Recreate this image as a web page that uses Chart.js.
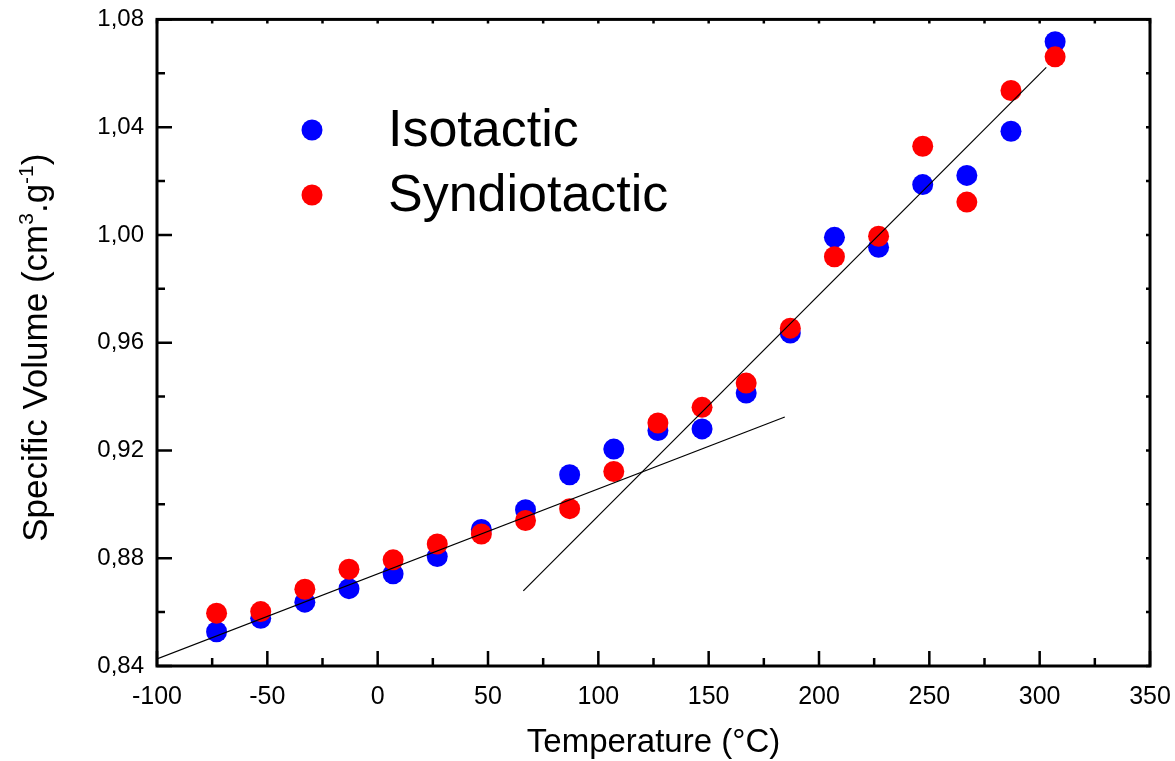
<!DOCTYPE html>
<html>
<head>
<meta charset="utf-8">
<script src="https://cdn.jsdelivr.net/npm/chart.js@4"></script>
<style>
    body { margin: 0; background: #fff; }
    #wrap { width: 1175px; height: 761px; }
</style>
</head>
<body>
<div id="wrap"><canvas id="volume-chart"></canvas></div>
<script>
// Measured temperatures (°C) and specific volumes (cm3/g)
const temperatures = [-73, -53, -33, -13, 7, 27, 47, 67, 87, 107, 127, 147, 167, 187, 207, 227, 247, 267, 287, 307];
const isotactic = [0.8527, 0.8577, 0.8637, 0.8687, 0.8742, 0.8806, 0.8907, 0.8980, 0.9110, 0.9205,
    0.9274, 0.9280, 0.9413, 0.9636, 0.9991, 0.9954, 1.0187, 1.0221, 1.0385, 1.0717];
const syndiotactic = [0.8596, 0.8602, 0.8685, 0.8759, 0.8794, 0.8853, 0.8890, 0.8940, 0.8984, 0.9122,
    0.9302, 0.9360, 0.9450, 0.9654, 0.9919, 0.9995, 1.0329, 1.0122, 1.0536, 1.0661];

// Straight-line fits below and above the transition (end points)
const glassyFitX = [-100, 184.5];
const glassyFitY = [0.8426, 0.9324];
const meltFitX = [66, 303];
const meltFitY = [0.8679, 1.0622];

const FONT = 'Arial, "Liberation Sans", Helvetica, sans-serif';

const toPoints = (xs, ys) => xs.map((x, i) => ({ x, y: ys[i] }));

// Closed frame with inward ticks on all four sides
const framePlugin = {
    id: 'frame',
    afterDraw(chart) {
        const { ctx, chartArea: a, scales } = chart;
        const xs = scales.x, ys = scales.y;
        ctx.save();
        ctx.strokeStyle = '#000';
        ctx.lineWidth = 2.5;
        ctx.lineCap = 'butt';
        ctx.beginPath();
        for (let t = -100; t <= 350; t += 25) {
            const px = xs.getPixelForValue(t);
            const major = t % 50 === 0;
            ctx.moveTo(px, a.bottom);
            ctx.lineTo(px, a.bottom - (major ? 15 : 8));
            ctx.moveTo(px, a.top);
            ctx.lineTo(px, a.top + 4);
        }
        for (let i = 0; i <= 12; i++) {
            const py = ys.getPixelForValue(0.84 + i * 0.02);
            const major = i % 2 === 0;
            ctx.moveTo(a.left, py);
            ctx.lineTo(a.left + (major ? 15 : 8), py);
            ctx.moveTo(a.right, py);
            ctx.lineTo(a.right - 4, py);
        }
        ctx.stroke();
        ctx.lineWidth = 3;
        ctx.strokeRect(a.left, a.top, a.right - a.left, a.bottom - a.top);
        ctx.restore();
    },
};

// Rotated y-axis title with superscript units
const yTitlePlugin = {
    id: 'yTitle',
    afterDraw(chart) {
        const { ctx, chartArea: a } = chart;
        const parts = [
            ['Specific Volume (cm', false],
            ['3', true],
            ['.g', false],
            ['-1', true],
            [')', false],
        ];
        const big = `35px ${FONT}`;
        const small = `21px ${FONT}`;
        ctx.save();
        let total = 0;
        parts.forEach(([txt, sup]) => {
            ctx.font = sup ? small : big;
            total += ctx.measureText(txt).width;
        });
        ctx.translate(47, (a.top + a.bottom) / 2 + 5);
        ctx.rotate(-Math.PI / 2);
        ctx.fillStyle = '#000';
        ctx.textBaseline = 'alphabetic';
        let x = -total / 2;
        parts.forEach(([txt, sup]) => {
            ctx.font = sup ? small : big;
            ctx.fillText(txt, x, sup ? -14 : 0);
            x += ctx.measureText(txt).width;
        });
        ctx.restore();
    },
};

// Legend inside the plot for the two measured series
const legendPlugin = {
    id: 'insideLegend',
    afterDraw(chart) {
        const { ctx } = chart;
        const rows = chart.data.datasets.filter((d) => d.inLegend);
        ctx.save();
        ctx.font = `52px ${FONT}`;
        ctx.textBaseline = 'middle';
        rows.forEach((d, i) => {
            const y = 130 + i * 65;
            ctx.fillStyle = d.backgroundColor;
            ctx.beginPath();
            ctx.arc(312, y, 10.5, 0, Math.PI * 2);
            ctx.fill();
            ctx.fillStyle = '#000';
            ctx.fillText(d.label, 388, y + 2);
        });
        ctx.restore();
    },
};

const ctx = document.getElementById('volume-chart').getContext('2d');
new Chart(ctx, {
    type: 'scatter',
    data: {
        datasets: [
            {
                label: 'fit-low',
                data: toPoints(glassyFitX, glassyFitY),
                showLine: true,
                borderColor: '#000',
                borderWidth: 1.2,
                pointRadius: 0,
                order: 0,
            },
            {
                label: 'fit-high',
                data: toPoints(meltFitX, meltFitY),
                showLine: true,
                borderColor: '#000',
                borderWidth: 1.2,
                pointRadius: 0,
                order: 0,
            },
            {
                label: 'Isotactic',
                data: toPoints(temperatures, isotactic),
                backgroundColor: '#0000ff',
                borderWidth: 0,
                pointRadius: 10.5,
                order: 2,
                inLegend: true,
            },
            {
                label: 'Syndiotactic',
                data: toPoints(temperatures, syndiotactic),
                backgroundColor: '#ff0000',
                borderWidth: 0,
                pointRadius: 10.5,
                order: 1,
                inLegend: true,
            },
        ],
    },
    options: {
        responsive: true,
        maintainAspectRatio: false,
        animation: false,
        layout: { padding: { top: 12, right: 25, left: 0, bottom: 0 } },
        plugins: {
            legend: { display: false },
            tooltip: { enabled: false },
        },
        scales: {
            x: {
                type: 'linear',
                min: -100,
                max: 350,
                grid: { display: false },
                border: { display: false },
                ticks: {
                    stepSize: 50,
                    padding: 8,
                    color: '#000',
                    font: { family: FONT, size: 25 },
                },
                title: {
                    display: true,
                    text: 'Temperature (°C)',
                    color: '#000',
                    font: { family: FONT, size: 33, lineHeight: 1 },
                    padding: { top: 0, bottom: 2 },
                },
                afterFit: (scale) => {
                    scale.height = 95;
                    scale.paddingLeft = 0;
                    scale.paddingRight = 0;
                },
            },
            y: {
                min: 0.84,
                max: 1.08,
                grid: { display: false },
                border: { display: false },
                ticks: {
                    stepSize: 0.04,
                    padding: 5,
                    color: '#000',
                    font: { family: FONT, size: 24 },
                    callback: (value) => value.toFixed(2).replace('.', ','),
                },
                afterFit: (scale) => { scale.width = 157; },
            },
        },
    },
    plugins: [framePlugin, yTitlePlugin, legendPlugin],
});
</script>
</body>
</html>
